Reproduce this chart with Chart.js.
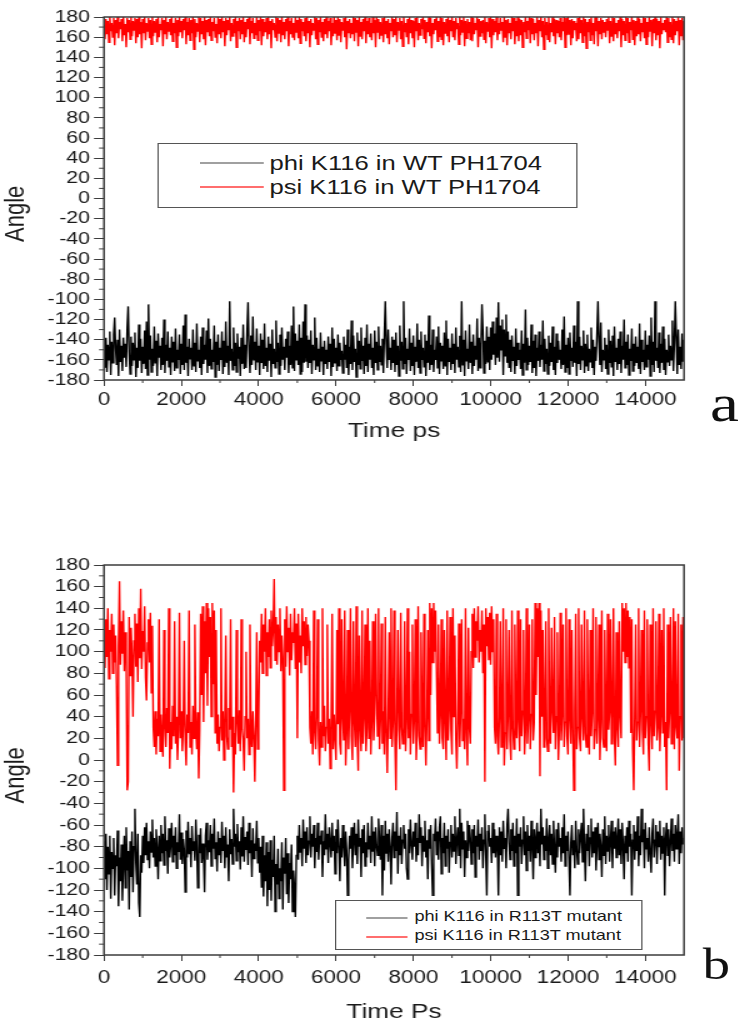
<!DOCTYPE html>
<html>
<head>
<meta charset="utf-8">
<script src="https://cdn.jsdelivr.net/npm/chart.js@4.4.1/dist/chart.umd.min.js"></script>
<style>
  html, body { margin: 0; padding: 0; background: #fff; }
  body { width: 740px; height: 1032px; overflow: hidden; position: relative; }
  /* the source figure is stretched sideways, so the whole stage is too */
  #stage { position: absolute; left: 0; top: 0; width: 592px; height: 1032px;
    transform: scaleX(1.25); transform-origin: 0 0;
    font-family: "Liberation Sans", Arial, sans-serif; color: #1a1a1a; }
  canvas { position: absolute; left: 0; }
  .legend { position: absolute; border: 1.5px solid #555; background: #fff; box-sizing: border-box; }
  .legend .sample { position: absolute; height: 1.6px; }
  .legend .label { position: absolute; white-space: nowrap; line-height: 1; }
  .panel-tag { position: absolute; font-family: "Liberation Serif", "Times New Roman", serif; line-height: 1; color: #111; }
</style>
</head>
<body>
<div id="stage">
  <canvas id="chartA" width="592" height="450" style="top:0;width:592px;height:450px"></canvas>
  <canvas id="chartB" width="592" height="512" style="top:520px;width:592px;height:512px"></canvas>

  <div class="legend" id="legendA" style="left:125.6px;top:143px;width:336px;height:65px">
    <div class="sample" style="left:33.6px;width:50.4px;top:18px;background:#a0a0a0"></div>
    <div class="sample" style="left:33.6px;width:50.4px;top:42px;background:#ff6e6e"></div>
    <div class="label" style="left:89px;top:9px;font-size:20.5px"></div>
    <div class="label" style="left:89px;top:33px;font-size:20.5px"></div>
  </div>

  <div class="legend" id="legendB" style="left:268px;top:900px;width:246.4px;height:50px">
    <div class="sample" style="left:24px;width:32.8px;top:16px;background:#a0a0a0"></div>
    <div class="sample" style="left:24px;width:32.8px;top:35px;background:#ff6e6e"></div>
    <div class="label" style="left:62.5px;top:8px;font-size:14.5px"></div>
    <div class="label" style="left:62.5px;top:26.5px;font-size:14.5px"></div>
  </div>

  <div class="panel-tag" style="left:568px;top:378px;font-size:52px">a</div>
  <div class="panel-tag" style="left:562px;top:943px;font-size:44px">b</div>
</div>

<script>
// sampling interval of the trajectories (ps)
const sampleStepPs = 25;

const timeTicks = [0, 2000, 4000, 6000, 8000, 10000, 12000, 14000];
const timeMinorTicks = [1000, 3000, 5000, 7000, 9000, 11000, 13000];
const angleTicks = [-180, -160, -140, -120, -100, -80, -60, -40, -20, 0, 20, 40, 60, 80, 100, 120, 140, 160, 180];
const angleMinorTicks = [-170, -150, -130, -110, -90, -70, -50, -30, -10, 10, 30, 50, 70, 90, 110, 130, 150, 170];

const labelsA = ["phi K116 in WT PH1704", "psi K116 in WT PH1704"];
const labelsB = ["phi K116 in R113T mutant", "psi K116 in R113T mutant"];

// panel a: wild type
const phiWT = [
  -150,-168,-138,-172,-145,-160,-132,-175,-142,-163,
  -135,-118,-148,-165,-140,-176,-130,-162,-146,-171,
  -138,-158,-144,-167,-128,-107,-152,-174,-137,-166,
  -143,-160,-133,-177,-148,-168,-125,-161,-139,-173,
  -147,-164,-131,-169,-122,-175,-105,-160,-136,-172,
  -149,-166,-127,-163,-141,-176,-134,-158,-146,-170,
  -138,-165,-120,-173,-145,-161,-132,-167,-148,-175,
  -137,-162,-142,-171,-129,-168,-150,-160,-135,-174,
  -144,-165,-126,-170,-115,-163,-147,-176,-139,-159,
  -148,-170,-130,-166,-143,-172,-124,-161,-150,-168,
  -137,-175,-128,-164,-145,-160,-131,-173,-119,-166,
  -139,-169,-150,-162,-126,-177,-142,-165,-135,-171,
  -148,-160,-132,-174,-141,-167,-122,-163,-146,-175,
  -102,-161,-149,-170,-128,-166,-143,-172,-134,-159,
  -147,-176,-138,-164,-125,-169,-145,-168,-131,-103,
  -150,-173,-136,-165,-117,-160,-142,-170,-129,-162,
  -146,-175,-134,-163,-140,-169,-124,-166,-148,-172,
  -137,-161,-144,-177,-130,-164,-149,-168,-121,-162,
  -143,-174,-135,-166,-128,-160,-147,-170,-139,-158,
  -132,-173,-146,-165,-126,-168,-107,-171,-134,-160,
  -141,-165,-125,-174,-138,-172,-122,-163,-105,-162,
  -136,-168,-140,-163,-131,-174,-145,-160,-118,-170,
  -138,-166,-149,-172,-133,-161,-147,-175,-141,-164,
  -150,-169,-137,-162,-144,-176,-128,-167,-139,-163,
  -148,-171,-135,-166,-143,-160,-151,-173,-137,-160,
  -145,-168,-130,-175,-147,-164,-121,-170,-136,-162,
  -149,-177,-133,-165,-141,-169,-128,-161,-146,-174,
  -138,-166,-125,-172,-144,-160,-134,-168,-148,-175,
  -131,-163,-142,-170,-127,-162,-146,-165,-139,-173,
  -135,-102,-144,-168,-130,-160,-148,-170,-137,-163,
  -140,-172,-133,-165,-146,-176,-126,-161,-142,-169,
  -102,-164,-138,-174,-149,-160,-129,-171,-143,-166,
  -136,-175,-147,-162,-124,-168,-140,-173,-132,-160,
  -148,-167,-135,-176,-141,-163,-116,-170,-145,-165,
  -130,-172,-150,-160,-137,-168,-127,-174,-143,-161,
  -146,-169,-133,-166,-121,-175,-139,-162,-148,-170,
  -134,-164,-144,-173,-128,-160,-147,-167,-136,-172,
  -102,-165,-140,-176,-131,-161,-149,-169,-125,-163,
  -142,-174,-135,-166,-146,-160,-119,-171,-138,-168,
  -145,-105,-132,-173,-141,-164,-127,-162,-137,-170,
  -128,-160,-122,-155,-134,-165,-118,-158,-103,-162,
  -126,-150,-120,-175,-130,-156,-115,-163,-132,-168,
  -140,-172,-136,-161,-147,-174,-129,-166,-143,-160,
  -150,-169,-131,-175,-144,-163,-110,-170,-138,-165,
  -146,-162,-125,-173,-141,-168,-135,-176,-148,-161,
  -132,-167,-145,-160,-121,-171,-139,-164,-149,-174,
  -136,-166,-143,-162,-127,-170,-147,-175,-134,-163,
  -141,-160,-150,-169,-130,-165,-117,-172,-145,-168,
  -138,-174,-133,-161,-148,-167,-126,-163,-142,-176,
  -102,-164,-137,-170,-146,-160,-131,-173,-144,-166,
  -135,-171,-149,-162,-128,-168,-140,-175,-147,-161,
  -133,-102,-143,-165,-123,-172,-150,-160,-138,-169,
  -145,-174,-130,-163,-141,-167,-136,-176,-127,-162,
  -148,-170,-139,-164,-132,-173,-146,-160,-120,-168,
  -142,-165,-135,-175,-149,-161,-129,-171,-144,-166,
  -137,-163,-147,-169,-124,-174,-140,-162,-150,-170,
  -131,-167,-145,-160,-136,-176,-118,-165,-142,-172,
  -102,-161,-148,-168,-133,-173,-144,-163,-127,-170,
  -139,-175,-150,-162,-135,-166,-146,-160,-121,-171,
  -143,-102,-137,-174,-130,-165,-147,-169,-134,-162,
  -140
];
const psiWT = [
  172,158,178,163,176,155,180,166,174,160,
  179,152,177,164,180,159,175,168,178,156,
  180,162,173,150,179,165,177,158,180,161,
  176,167,179,154,178,160,180,163,175,149,
  178,164,180,157,174,166,179,159,177,153,
  180,161,176,165,178,155,180,160,173,167,
  179,151,177,163,180,158,175,166,178,162,
  180,156,174,164,179,150,177,161,180,165,
  176,159,178,167,180,153,175,162,179,157,
  177,164,180,148,178,160,174,166,180,155,
  179,163,176,158,180,152,177,165,178,161,
  180,157,175,166,179,160,173,154,180,163,
  178,159,180,165,176,151,179,162,177,167,
  180,156,174,161,178,164,180,150,176,166,
  179,158,177,163,180,155,175,160,178,168,
  180,153,176,164,179,159,174,162,180,157,
  177,166,180,152,178,161,175,165,179,158,
  180,163,176,149,178,167,174,160,180,156,
  179,164,177,155,180,162,175,158,178,166,
  180,151,176,163,179,160,174,157,180,165,
  177,159,180,154,178,166,175,161,179,156,
  180,164,176,150,178,162,174,167,180,158,
  179,153,177,165,180,160,175,156,178,163,
  180,159,176,166,179,152,174,161,180,164,
  177,157,180,162,178,155,175,167,179,160,
  180,148,176,164,178,159,174,163,180,156,
  179,165,177,151,180,161,175,158,178,166,
  180,154,176,163,179,160,174,157,180,164,
  177,150,180,165,178,158,175,162,179,155,
  180,163,176,159,178,153,174,166,180,160,
  178,162,180,155,175,167,179,158,176,151,
  180,165,174,160,178,153,180,164,177,159,
  176,150,179,166,180,157,174,162,178,168,
  180,159,177,154,175,165,180,161,179,149,
  174,163,178,167,180,156,176,160,180,158,
  179,152,175,164,178,161,180,155,177,166,
  180,160,176,157,179,168,174,153,180,162,
  177,165,180,151,176,159,178,164,175,157,
  180,156,179,163,174,167,180,150,178,161,
  176,164,177,158,180,154,175,166,179,160,
  180,149,178,162,176,165,180,157,174,163,
  179,167,175,155,180,160,177,152,178,164,
  174,158,180,166,179,153,176,161,180,156,
  178,162,177,150,175,165,180,159,176,167,
  180,154,179,163,178,157,174,164,180,151,
  177,166,180,160,176,148,179,162,175,158,
  180,155,174,165,180,161,178,153,177,164,
  176,160,179,157,175,166,180,150,179,162,
  180,163,177,152,178,159,176,167,174,156,
  179,158,180,164,177,155,180,161,178,149,
  175,165,178,157,180,162,174,153,180,166,
  180,151,176,163,179,158,177,165,175,160,
  178,167,180,154,176,161,180,156,179,163,
  174,159,177,166,180,150,178,162,176,157,
  180,164,179,155,175,167,180,158,177,152,
  176,161,180,163,178,156,174,165,180,159,
  179,153,175,160,180,166,177,151,178,164,
  180,157,178,162,176,149,180,163,174,167,
  177,165,180,155,179,160,175,158,180,154,
  178,162,176,166,180,152,177,161,179,157,
  176
];

// panel b: R113T mutant
const phiMut = [
  -75,-110,-68,-120,-80,-105,-70,-128,-85,-100,
  -72,-125,-88,-98,-65,-135,-90,-112,-78,-130,
  -95,-70,-118,-62,-102,-84,-138,-75,-108,-66,
  -122,-80,-45,-95,-115,-68,-132,-145,-88,-104,
  -70,-95,-62,-88,-58,-92,-75,-100,-66,-85,
  -55,-90,-72,-98,-64,-82,-110,-70,-93,-60,
  -86,-68,-97,-52,-84,-74,-105,-63,-90,-78,
  -58,-94,-70,-88,-62,-100,-76,-85,-50,-92,
  -67,-96,-73,-83,-122,-65,-90,-57,-87,-72,
  -99,-61,-84,-75,-93,-55,-80,-118,-69,-86,
  -63,-95,-77,-89,-122,-70,-58,-92,-74,-85,
  -60,-98,-68,-82,-54,-91,-76,-103,-66,-88,
  -72,-95,-57,-84,-70,-100,-62,-90,-78,-112,
  -64,-87,-73,-96,-45,-80,-68,-93,-59,-85,
  -75,-101,-62,-89,-52,-94,-71,-83,-66,-97,
  -58,-86,-74,-108,-63,-91,-77,-84,-56,-95,
  -72,-104,-80,-118,-70,-126,-88,-112,-76,-135,
  -85,-120,-74,-130,-92,-108,-70,-140,-96,-115,
  -82,-128,-100,-112,-76,-138,-90,-105,-72,-124,
  -86,-132,-95,-110,-78,-140,-102,-118,-145,-88,
  -70,-92,-60,-85,-72,-98,-55,-82,-66,-95,
  -62,-88,-75,-52,-90,-68,-80,-60,-100,-72,
  -85,-58,-92,-70,-78,-65,-108,-75,-88,-50,
  -82,-68,-95,-62,-76,-90,-58,-84,-70,-105,
  -64,-86,-55,-80,-112,-72,-90,-60,-78,-98,
  -66,-84,-125,-92,-70,-82,-62,-100,-74,-58,
  -88,-68,-96,-55,-80,-72,-108,-64,-86,-60,
  -98,-76,-90,-58,-82,-70,-95,-52,-84,-66,
  -98,-62,-78,-88,-54,-74,-92,-60,-125,-70,
  -102,-56,-86,-68,-94,-64,-80,-115,-72,-58,
  -90,-66,-84,-48,-105,-70,-88,-62,-96,-74,
  -60,-82,-68,-100,-110,-64,-86,-55,-78,-92,
  -66,-80,-58,-94,-72,-88,-50,-76,-62,-98,
  -70,-84,-56,-90,-74,-110,-64,-82,-60,-96,
  -125,-68,-75,-54,-88,-66,-92,-62,-52,-105,
  -72,-86,-58,-98,-70,-82,-64,-104,-76,-60,
  -90,-68,-84,-52,-96,-74,-62,-88,-45,-100,
  -58,-82,-66,-108,-74,-90,-56,-84,-60,-72,
  -96,-64,-86,-60,-108,-70,-80,-55,-92,-68,
  -84,-62,-100,-74,-50,-88,-125,-66,-60,-80,
  -72,-95,-58,-86,-64,-90,-70,-78,-125,-62,
  -88,-66,-94,-56,-82,-72,-100,-60,-45,-76,
  -92,-64,-84,-58,-98,-70,-86,-54,-125,-68,
  -80,-62,-96,-74,-52,-88,-66,-102,-60,-84,
  -70,-94,-56,-80,-110,-64,-90,-72,-58,-86,
  -66,-98,-45,-78,-62,-92,-70,-84,-54,-100,
  -74,-60,-88,-68,-96,-56,-82,-104,-64,-90,
  -58,-80,-72,-94,-62,-86,-50,-98,-70,-84,
  -66,-92,-125,-76,-60,-88,-74,-100,-56,-82,
  -96,-64,-86,-70,-58,-94,-45,-80,-112,-68,
  -84,-60,-98,-72,-54,-90,-66,-86,-62,-102,
  -76,-58,-92,-68,-80,-108,-64,-88,-52,-96,
  -70,-84,-60,-94,-74,-56,-100,-66,-82,-62,
  -90,-72,-54,-88,-64,-96,-58,-78,-110,-70,
  -86,-62,-94,-56,-80,-68,-125,-74,-60,-92,
  -66,-84,-52,-98,-70,-88,-45,-76,-64,-100,
  -58,-82,-72,-94,-62,-86,-104,-68,-54,-90,
  -74,-60,-96,-66,-80,-56,-92,-70,-86,-62,
  -125,-72,-58,-88,-64,-98,-76,-54,-84,-68,
  -94,-60,-82,-70,-50,-96,-66,-86,-62,-78,
  -72
];
const psiMut = [
  110,85,130,95,140,75,120,100,135,80,
  125,90,115,70,-5,105,165,88,128,98,
  138,82,118,92,-28,-20,132,78,122,96,
  40,110,135,86,126,72,140,94,158,84,
  119,100,142,76,55,108,130,90,136,62,
  124,30,12,45,5,38,22,130,8,42,
  18,3,120,30,12,48,25,140,-8,35,
  10,50,22,128,15,40,0,28,136,20,
  45,8,32,110,18,-5,42,25,138,12,
  35,5,50,20,125,30,10,44,-17,28,
  135,60,142,35,128,80,145,50,140,95,
  132,40,145,70,138,25,120,15,42,8,
  30,140,18,45,0,36,115,22,10,48,
  28,130,12,40,-30,25,5,120,35,15,
  46,8,130,28,18,-10,40,100,20,38,
  5,125,30,12,45,22,-20,33,118,10,
  40,110,90,135,80,125,100,140,78,118,
  95,130,85,138,105,120,167,92,132,88,
  125,100,140,82,115,95,-28,130,86,142,
  100,122,78,135,92,118,108,140,84,126,
  20,135,90,115,80,140,105,128,88,132,
  96,125,110,30,15,45,5,138,25,10,
  40,130,18,-5,35,12,140,22,50,8,
  30,125,15,38,-8,28,135,10,42,20,
  0,120,33,140,15,5,130,40,18,138,
  -5,25,120,10,45,140,22,0,128,35,
  12,142,20,-10,115,30,8,138,15,40,
  125,8,30,140,20,110,5,35,128,18,
  42,135,60,22,140,10,38,126,15,45,
  5,132,25,-12,40,118,20,140,12,35,
  138,18,-28,45,120,28,10,136,30,15,
  40,128,8,35,140,20,100,5,42,125,
  15,38,130,0,28,142,22,10,118,45,
  12,135,30,-5,40,120,18,145,60,140,
  90,145,100,138,85,25,125,15,42,130,
  20,10,120,35,0,138,18,45,132,28,
  5,140,40,115,20,-8,35,126,12,45,
  130,18,38,10,140,25,-5,122,30,15,
  100,135,85,140,95,128,110,142,90,120,
  100,138,80,125,-20,140,105,132,92,136,
  88,142,100,130,30,15,135,22,5,40,
  128,12,35,140,-5,25,130,10,42,120,
  18,0,138,30,10,125,40,20,138,35,
  8,130,22,45,120,5,28,140,15,38,
  125,10,42,130,18,35,145,60,140,95,
  145,-15,138,40,120,12,35,128,20,8,
  140,30,15,122,45,25,132,10,40,118,
  0,28,136,18,42,125,12,35,140,22,
  5,130,38,15,120,28,-28,45,135,10,
  30,140,20,8,125,40,18,138,25,12,
  130,35,5,120,22,45,140,10,28,132,
  15,40,125,0,35,138,20,12,120,42,
  8,135,28,45,130,15,38,140,22,-5,
  118,30,12,128,40,20,145,100,140,90,
  145,95,138,85,132,25,130,10,-28,40,
  125,18,35,140,12,45,120,28,5,138,
  20,40,130,15,-10,125,35,10,140,22,
  45,128,18,30,135,8,40,120,25,140,
  12,35,-28,125,20,45,132,15,38,140,
  10,128,30,20,135,-10,40,125,18,132,
  20
];

const fontFamily = "'Liberation Sans', Arial, sans-serif";
const inkColor = '#1a1a1a';
const axisColor = '#3c3c3c';

// minor ticks and the closed frame round the plot
const framePlugin = {
  id: 'frame',
  afterDraw(chart) {
    const { ctx, chartArea: a, scales: { x, y } } = chart;
    ctx.save();
    ctx.strokeStyle = axisColor;
    ctx.lineWidth = 1;
    ctx.beginPath();
    timeMinorTicks.forEach(v => {
      const px = x.getPixelForValue(v);
      ctx.moveTo(px, a.bottom);
      ctx.lineTo(px, a.bottom + 3);
    });
    angleMinorTicks.forEach(v => {
      const py = y.getPixelForValue(v);
      ctx.moveTo(a.left, py);
      ctx.lineTo(a.left - 4, py);
    });
    ctx.stroke();
    ctx.lineWidth = 1.5;
    ctx.strokeRect(a.left, a.top, a.right - a.left, a.bottom - a.top);
    ctx.restore();
  }
};

function toPoints(values) {
  return values.map((v, i) => ({ x: i * sampleStepPs, y: v }));
}

function buildChart(el, series, cfg) {
  return new Chart(el, {
    type: 'line',
    data: {
      datasets: series.map(s => ({
        label: s.label,
        data: toPoints(s.values),
        borderColor: s.color,
        borderWidth: 1.4,
        pointRadius: 0,
        tension: 0,
        fill: false
      }))
    },
    options: {
      responsive: false,
      devicePixelRatio: 1,
      animation: false,
      events: [],
      layout: { padding: { top: cfg.top, right: 44.8, left: 0, bottom: 0 } },
      plugins: { legend: { display: false }, tooltip: { enabled: false } },
      scales: {
        x: {
          type: 'linear',
          min: 0,
          max: 15000,
          afterBuildTicks: sc => { sc.ticks = timeTicks.map(v => ({ value: v })); },
          afterFit: sc => { sc.height = cfg.xAxisHeight; },
          grid: { drawOnChartArea: false, tickLength: 6, color: axisColor, lineWidth: 1 },
          border: { display: false },
          ticks: {
            padding: cfg.xTickPad, color: inkColor, maxRotation: 0, autoSkip: false,
            font: { family: fontFamily, size: 18 },
            callback: v => String(v)
          },
          title: {
            display: true, text: cfg.xTitle, color: inkColor,
            font: { family: fontFamily, size: 21 },
            padding: { top: 0, bottom: cfg.xTitlePad }
          }
        },
        y: {
          type: 'linear',
          min: -180,
          max: 180,
          afterBuildTicks: sc => { sc.ticks = angleTicks.map(v => ({ value: v })); },
          afterFit: sc => { sc.width = 83.2; },
          grid: { drawOnChartArea: false, tickLength: 8, color: axisColor, lineWidth: 1 },
          border: { display: false },
          ticks: {
            padding: 3.2, color: inkColor, autoSkip: false,
            font: { family: fontFamily, size: 17 },
            callback: v => String(v)
          },
          title: {
            display: true, text: 'Angle     ', color: inkColor,
            font: { family: fontFamily, size: 22 },
            padding: { top: 0, bottom: 0 }
          }
        }
      }
    },
    plugins: [framePlugin]
  });
}

function fillLegend(id, labels) {
  const spans = document.querySelectorAll('#' + id + ' .label');
  labels.forEach((t, i) => { spans[i].textContent = t; });
}

buildChart(document.getElementById('chartA'), [
  { label: labelsA[0], values: phiWT, color: '#000000' },
  { label: labelsA[1], values: psiWT, color: '#ff0000' }
], { top: 17, xAxisHeight: 70, xTickPad: 3.2, xTitlePad: 5.9, xTitle: 'Time ps' });

buildChart(document.getElementById('chartB'), [
  { label: labelsB[0], values: phiMut, color: '#000000' },
  { label: labelsB[1], values: psiMut, color: '#ff0000' }
], { top: 45, xAxisHeight: 77, xTickPad: 6.7, xTitlePad: 6.9, xTitle: 'Time Ps' });

fillLegend('legendA', labelsA);
fillLegend('legendB', labelsB);
</script>
</body>
</html>
